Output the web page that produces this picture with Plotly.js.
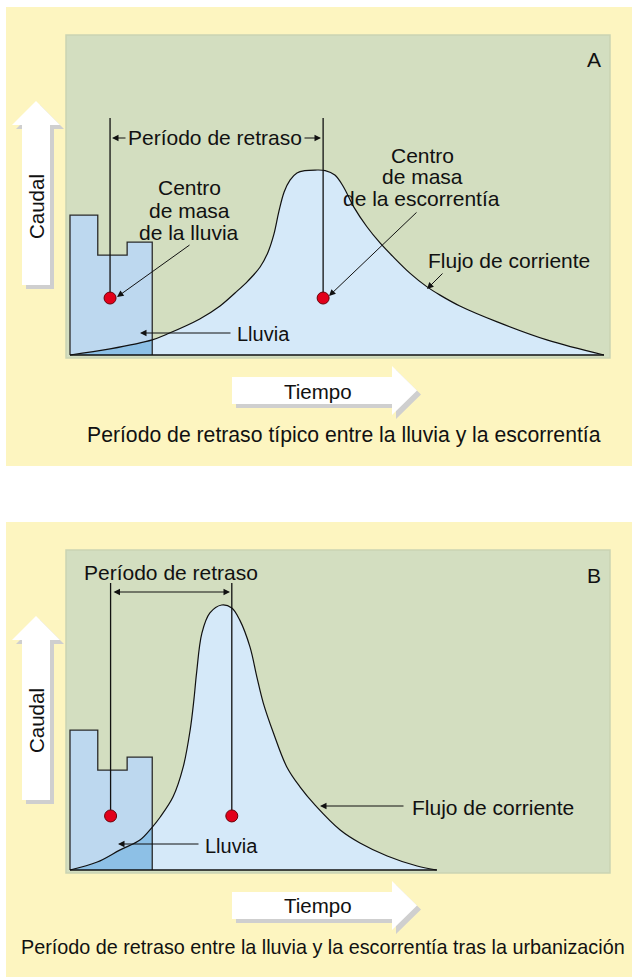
<!DOCTYPE html>
<html>
<head>
<meta charset="utf-8">
<script src="https://cdn.plot.ly/plotly-3.0.1.min.js"></script>
<style>
  html, body { margin: 0; padding: 0; background: #fff; }
  #plot { width: 636px; height: 977px; }
</style>
</head>
<body>
<div id="plot"></div>
<script>
// Lluvia (hietograma), la misma tormenta en los dos paneles
const rainEdges = [0, 5.2, 10.7, 15.4];
const rainRate = [52.8, 37.7, 42.6];

// A: hidrograma típico
const timeA = [0, 7.5, 15.4, 18.2, 24.3, 28.1, 30.9, 33.3, 35.6, 37.1, 38.2, 39.1, 40.1, 41.2,
  42.5, 44.0, 45.9, 47.8, 49.6, 51.2, 53.1, 55.6, 58.1, 60.5, 63.7, 66.8, 69.3, 73.0, 80.0, 89.3, 100];
const flowA = [0, 2.3, 5.7, 7.9, 13.6, 18.5, 23.4, 27.9, 33.2, 38.9, 45.7, 54.0, 61.5, 66.0,
  68.7, 69.6, 69.8, 69.6, 67.9, 63.5, 56.0, 48.4, 42.2, 37.1, 30.8, 25.8, 22.6, 18.5, 12.5, 5.7, 0];

// B: hidrograma tras la urbanización
const timeB = [0, 5.1, 9.4, 13.1, 15.3, 16.9, 19.3, 21.2, 22.5, 23.2, 23.7, 24.7, 26.2, 28.4,
  30.3, 31.8, 33.7, 35.0, 36.2, 38.1, 40.6, 43.1, 45.9, 50.6, 54.3, 59.4, 65.0, 68.7];
const flowB = [0, 3.0, 7.6, 11.3, 15.9, 20.0, 27.6, 38.9, 52.8, 64.2, 74.3, 89.4, 97.0, 100,
  98.9, 94.3, 84.2, 72.8, 63.0, 51.7, 38.9, 31.3, 24.5, 15.1, 10.2, 5.3, 1.5, 0];

// centros de masa: [lluvia, escorrentía]
const centroidTimeA = [7.5, 47.4];
const centroidFlowA = [21.5, 21.5];
const centroidTimeB = [7.6, 30.3];
const centroidFlowB = [20.4, 20.4];

// ---- page geometry (pixels) ----
const W = 636, H = 977;
const t0 = 70, tScale = 5.34, qScale = 2.65;
const baseA = 355, baseB = 870, split = H / 2;
const X = p => p / W;
const Y = p => 1 - p / H;

const ink = '#111111';
const font = 'Liberation Sans, Arial, sans-serif';

function stepOutline(edges, rates) {
  const x = [edges[0]], y = [0];
  rates.forEach((r, i) => {
    x.push(edges[i], edges[i + 1]);
    y.push(r, r);
  });
  x.push(edges[edges.length - 1]);
  y.push(0);
  return { x, y };
}

function panel(time, flow, cT, cQ, topQ, xa, ya) {
  const rain = stepOutline(rainEdges, rainRate);
  const end = rainEdges[rainEdges.length - 1];
  // runoff under the rain block (darker overlap)
  const ox = [], oy = [];
  time.forEach((t, i) => { if (t <= end) { ox.push(t); oy.push(flow[i]); } });
  const k = time.findIndex(t => t > end);
  const f = (end - time[k - 1]) / (time[k] - time[k - 1]);
  ox.push(end, end);
  oy.push(flow[k - 1] + f * (flow[k] - flow[k - 1]), 0);

  const common = { xaxis: xa, yaxis: ya, hoverinfo: 'skip', showlegend: false };
  return [
    { ...common, x: time, y: flow, type: 'scatter', mode: 'lines', fill: 'tozeroy',
      fillcolor: '#d5e9f9', line: { width: 0, shape: 'spline', color: 'rgba(0,0,0,0)' } },
    { ...common, x: rain.x, y: rain.y, type: 'scatter', mode: 'lines', fill: 'toself',
      fillcolor: '#bdd8ef', line: { width: 0 } },
    { ...common, x: ox, y: oy, type: 'scatter', mode: 'lines', fill: 'toself',
      fillcolor: '#8dc0e6', line: { width: 0, shape: 'spline' } },
    { ...common, x: rain.x, y: rain.y, type: 'scatter', mode: 'lines',
      line: { color: '#2a2a2a', width: 1.3 } },
    { ...common, x: time, y: flow, type: 'scatter', mode: 'lines',
      line: { color: ink, width: 1.2, shape: 'spline' } },
    { ...common, x: [time[0], time[time.length - 1]], y: [0, 0], type: 'scatter', mode: 'lines',
      line: { color: ink, width: 1.6 } },
    { ...common, x: [cT[0], cT[0]], y: [cQ[0], topQ], type: 'scatter', mode: 'lines',
      line: { color: ink, width: 1.3 } },
    { ...common, x: [cT[1], cT[1]], y: [cQ[1], topQ], type: 'scatter', mode: 'lines',
      line: { color: ink, width: 1.3 } },
    { ...common, x: cT, y: cQ, type: 'scatter', mode: 'markers',
      marker: { size: 12, color: '#e2001a', line: { color: '#6b0008', width: 1 } } }
  ];
}

const data = [
  ...panel(timeA, flowA, centroidTimeA, centroidFlowA, (baseA - 118) / qScale, 'x', 'y'),
  ...panel(timeB, flowB, centroidTimeB, centroidFlowB, (baseB - 583) / qScale, 'x2', 'y2')
];

// ---- decoration ----
function poly(pts, dx, dy) {
  return 'M' + pts.map(p => X(p[0] + dx) + ',' + Y(p[1] + dy)).join(' L') + ' Z';
}
function rect(x0, y0, x1, y1, fill, line) {
  return { type: 'rect', xref: 'paper', yref: 'paper', layer: 'below',
    x0: X(x0), x1: X(x1), y0: Y(y1), y1: Y(y0), fillcolor: fill,
    line: line ? { color: line, width: 1.5 } : { width: 0 } };
}
function blockArrow(pts, dy) {
  return [
    { type: 'path', xref: 'paper', yref: 'paper', layer: 'below', path: poly(pts, 4, dy + 4),
      fillcolor: '#cfcfcf', line: { width: 0 } },
    { type: 'path', xref: 'paper', yref: 'paper', layer: 'below', path: poly(pts, 0, dy),
      fillcolor: '#ffffff', line: { width: 0 } }
  ];
}
const upArrow = [[22, 285], [50, 285], [50, 125], [60, 125], [36, 101], [12, 125], [22, 125]];
const rightArrow = [[232, 377], [392, 377], [392, 366], [417, 390.5], [392, 415], [392, 404], [232, 404]];

const shapes = [];
[0, 515].forEach(dy => {
  shapes.push(rect(6, 7 + dy, 632, 466 + dy, '#fdf5c0'));
  shapes.push(rect(66, 35 + dy, 610, 358 + dy, '#d3dec0', '#cad4b2'));
  shapes.push(...blockArrow(upArrow, dy), ...blockArrow(rightArrow, dy));
});

function label(text, x, y, size, extra) {
  return Object.assign({ text, x: X(x), y: Y(y), xref: 'paper', yref: 'paper',
    showarrow: false, xanchor: 'center', yanchor: 'middle',
    font: { family: font, size: size || 21, color: ink } }, extra || {});
}
function pointer(hx, hy, tx, ty, extra) {
  return Object.assign({ text: '', x: X(hx), y: Y(hy), ax: tx - hx, ay: ty - hy,
    xref: 'paper', yref: 'paper', showarrow: true, arrowhead: 2, arrowsize: 1.3,
    arrowwidth: 1, arrowcolor: ink }, extra || {});
}

const annotations = [
  // Panel A
  label('A', 594, 60),
  label('Período de retraso', 215, 138),
  pointer(112, 138, 127, 138),
  pointer(321, 138, 303, 138),
  label('Centro', 189, 188),
  label('de masa', 189, 210),
  label('de la lluvia', 189, 232),
  pointer(117, 297, 191, 244),
  label('Centro', 422, 155),
  label('de masa', 422, 177),
  label('de la escorrentía', 421, 198),
  pointer(329, 296, 418, 211),
  label('Flujo de corriente', 509, 261),
  pointer(427, 289, 444, 272),
  label('Lluvia', 263, 334, 20),
  pointer(140, 333, 232, 333),
  label('Caudal', 36, 207, 20.5, { textangle: -90 }),
  label('Tiempo', 318, 391, 20.5),
  label('Período de retraso típico entre la lluvia y la escorrentía', 344, 435, 21.2),
  // Panel B
  label('B', 594, 575),
  label('Período de retraso', 171, 572),
  pointer(230, 592, 112, 592, { arrowside: 'end+start', startarrowhead: 2, startarrowsize: 1.3 }),
  label('Lluvia', 232, 846, 20),
  pointer(118, 844, 200, 844),
  label('Flujo de corriente', 493, 807),
  pointer(320, 806, 405, 806),
  label('Caudal', 36, 721, 20.5, { textangle: -90 }),
  label('Tiempo', 318, 905, 20.5),
  label('Período de retraso entre la lluvia y la escorrentía tras la urbanización', 323, 947, 19.8)
];

const hidden = { visible: false, fixedrange: true, showgrid: false, zeroline: false };
const xRange = [-t0 / tScale, (W - t0) / tScale];

const layout = {
  width: W,
  height: H,
  margin: { l: 0, r: 0, t: 0, b: 0, pad: 0 },
  paper_bgcolor: '#ffffff',
  plot_bgcolor: 'rgba(0,0,0,0)',
  showlegend: false,
  xaxis: { ...hidden, domain: [0, 1], range: xRange, anchor: 'y' },
  yaxis: { ...hidden, domain: [0.5, 1], range: [(baseA - split) / qScale, baseA / qScale], anchor: 'x' },
  xaxis2: { ...hidden, domain: [0, 1], range: xRange, anchor: 'y2' },
  yaxis2: { ...hidden, domain: [0, 0.5], range: [(baseB - H) / qScale, (baseB - split) / qScale], anchor: 'x2' },
  shapes,
  annotations
};

Plotly.newPlot('plot', data, layout, { staticPlot: true, displayModeBar: false });
</script>
</body>
</html>
